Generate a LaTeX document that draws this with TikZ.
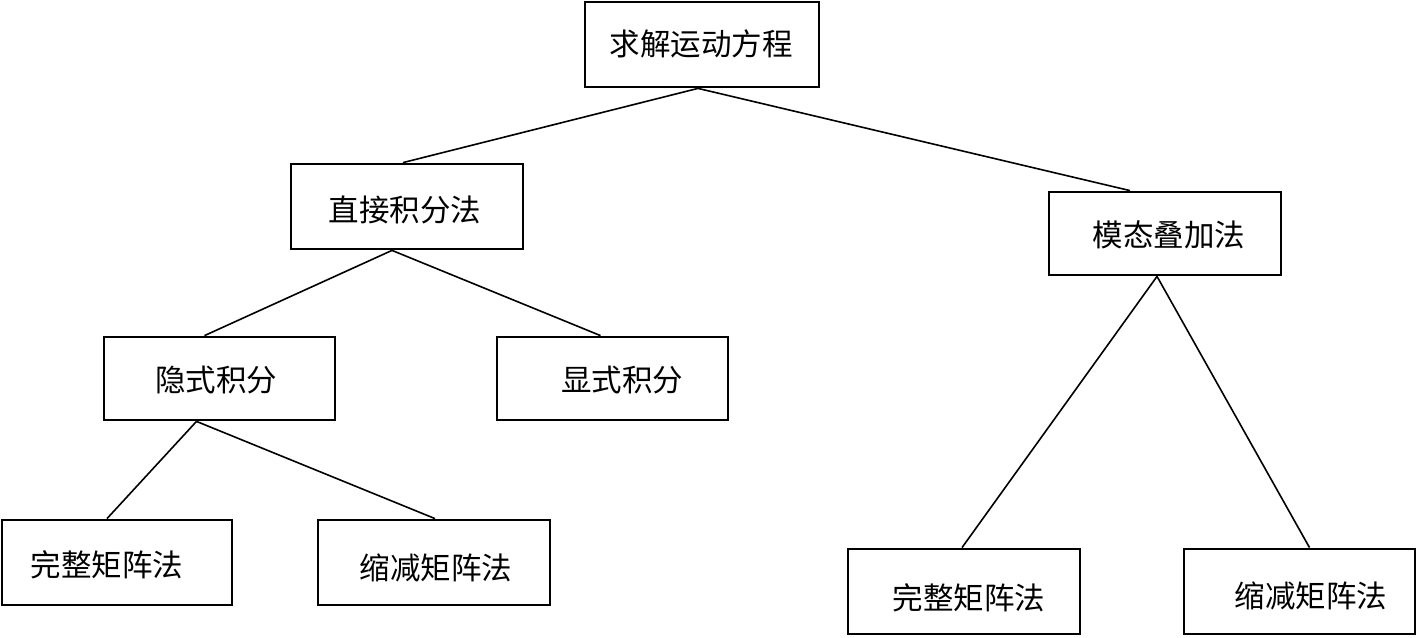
\documentclass[tikz,border=0pt]{standalone}
\usepackage{fontspec}
\newfontfamily\cjk{Noto Sans CJK SC}
\begin{document}
\begin{tikzpicture}[x=1pt,y=-1pt,
  box/.style={draw,line width=2.8pt,rectangle,minimum width=232pt,minimum height=84pt,inner sep=0pt},
  txt/.style={font=\cjk\fontsize{30.5}{33}\selectfont,inner sep=0pt},
  conn/.style={line width=1.6pt}]
\useasboundingbox (0,0) rectangle (1418,637);
\node[box,minimum width=234pt,minimum height=85pt] (top) at (702,44.5) {};
\node[box,minimum height=85pt] (zj) at (407,206.5) {};
\node[box,minimum height=83pt] (mt) at (1165,233.5) {};
\node[box,minimum width=231pt,minimum height=83pt] (ys) at (219.5,378.5) {};
\node[box,minimum width=231pt,minimum height=83pt] (xs) at (612.5,378.5) {};
\node[box,minimum width=230pt,minimum height=85pt] (wl) at (117,562.5) {};
\node[box,minimum height=85pt] (sl) at (434,562.5) {};
\node[box,minimum height=85pt] (wr) at (964,591.5) {};
\node[box,minimum width=231pt,minimum height=85pt] (sr) at (1299.5,591.5) {};
\node[txt] (ttop) at (701,44) {求解运动方程};
\node[txt] (tzj) at (405,210) {直接积分法};
\node[txt] (tmt) at (1169,235) {模态叠加法};
\node[txt] (tys) at (216,380) {隐式积分};
\node[txt] (txs) at (622,380) {显式积分};
\node[txt] (twl) at (107,565) {完整矩阵法};
\node[txt] (tsl) at (436,568) {缩减矩阵法};
\node[txt] (twr) at (969,598) {完整矩阵法};
\node[txt] (tsr) at (1311,596) {缩减矩阵法};
\draw[conn] ([xshift=-4pt]top.south) -- ([xshift=-4pt]zj.north);
\draw[conn] ([xshift=-4pt]top.south) -- ([xshift=-35pt]mt.north);
\draw[conn] ([xshift=-15pt]zj.south) -- ([xshift=-15pt]ys.north);
\draw[conn] ([xshift=-15pt]zj.south) -- ([xshift=-12pt]xs.north);
\draw[conn] ([xshift=-8pt]mt.south) -- ([xshift=-2pt]wr.north);
\draw[conn] ([xshift=-8pt]mt.south) -- ([xshift=10pt]sr.north);
\draw[conn] ([xshift=-23pt]ys.south) -- ([xshift=-10pt]wl.north);
\draw[conn] ([xshift=-23pt]ys.south) -- ([xshift=1pt]sl.north);
\end{tikzpicture}
\end{document}
